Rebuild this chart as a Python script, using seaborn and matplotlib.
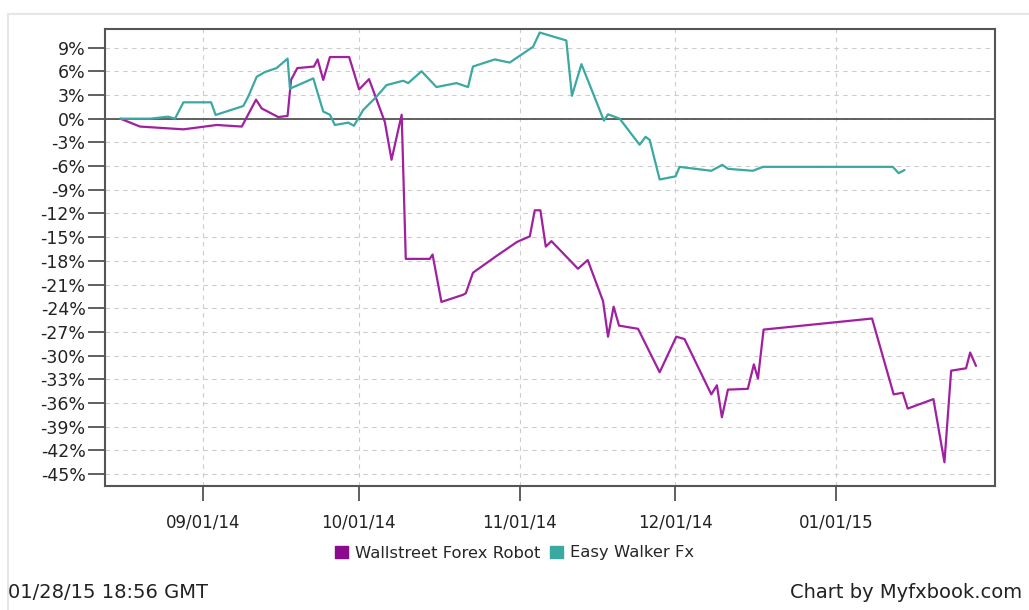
import matplotlib
matplotlib.use("Agg")
import matplotlib.pyplot as plt
import matplotlib.dates as mdates
from matplotlib.patches import Patch, Rectangle
import pandas as pd
import seaborn as sns

# ---- data ----
wallstreet_dates = [
    "2014-08-16 00:00", "2014-08-19 19:00", "2014-08-28 04:00", "2014-09-03 14:00",
    "2014-09-08 10:00", "2014-09-11 04:00", "2014-09-12 06:00", "2014-09-15 11:00",
    "2014-09-17 06:00", "2014-09-17 22:00", "2014-09-19 03:00", "2014-09-22 08:00",
    "2014-09-23 01:00", "2014-09-24 03:00", "2014-09-25 10:00", "2014-09-29 03:00",
    "2014-10-01 01:00", "2014-10-02 23:00", "2014-10-05 09:00", "2014-10-06 00:00",
    "2014-10-07 07:00", "2014-10-09 06:00", "2014-10-10 01:00", "2014-10-14 16:00",
    "2014-10-15 05:00", "2014-10-16 22:00", "2014-10-21 02:00", "2014-10-21 15:00",
    "2014-10-23 00:00", "2014-10-27 12:00", "2014-10-31 12:00", "2014-11-02 23:00",
    "2014-11-03 22:00", "2014-11-05 00:00",
    "2014-11-06 01:00", "2014-11-07 03:00", "2014-11-12 06:00", "2014-11-14 03:00",
    "2014-11-17 02:00", "2014-11-18 01:00", "2014-11-19 03:00", "2014-11-20 04:00",
    "2014-11-23 20:00", "2014-11-28 00:00", "2014-12-01 05:00", "2014-12-02 19:00",
    "2014-12-07 23:00", "2014-12-09 01:00", "2014-12-10 00:00", "2014-12-11 04:00",
    "2014-12-15 00:00", "2014-12-16 04:00", "2014-12-16 23:00", "2014-12-18 01:00",
    "2015-01-07 23:00", "2015-01-12 03:00", "2015-01-13 21:00", "2015-01-14 20:00",
    "2015-01-19 19:00", "2015-01-21 22:00", "2015-01-23 05:00", "2015-01-26 02:00",
    "2015-01-26 21:00", "2015-01-28 00:00",
]
wallstreet_values = [
    0.0, -1.0, -1.35, -0.8,
    -1.0, 2.4, 1.3, 0.2,
    0.35, 4.9, 6.4, 6.6,
    7.5, 4.9, 7.8, 7.8,
    3.7, 5.0, 0.7, -0.4,
    -5.2, 0.5, -17.75, -17.75,
    -17.2, -23.2, -22.3, -22.1,
    -19.5, -17.4, -15.6, -14.9,
    -11.6, -11.6,
    -16.2, -15.5, -19.0, -17.9,
    -23.1, -27.6, -23.8, -26.2,
    -26.6, -32.1, -27.6, -27.9,
    -34.9, -33.75, -37.8, -34.3,
    -34.2, -31.1, -32.9, -26.7,
    -25.3, -34.9, -34.7, -36.7,
    -35.5, -43.5, -31.9, -31.6,
    -29.6, -31.3,
]

easywalker_dates = [
    "2014-08-16 00:00", "2014-08-21 18:00", "2014-08-25 05:00", "2014-08-26 13:00",
    "2014-08-28 04:00", "2014-09-02 12:00", "2014-09-03 09:00", "2014-09-08 17:00",
    "2014-09-09 16:00", "2014-09-11 07:00", "2014-09-12 21:00", "2014-09-15 03:00",
    "2014-09-17 06:00", "2014-09-17 17:00", "2014-09-22 05:00", "2014-09-24 03:00",
    "2014-09-25 10:00", "2014-09-26 09:00", "2014-09-28 23:00", "2014-09-30 01:00",
    "2014-10-01 20:00", "2014-10-04 10:00", "2014-10-06 08:00", "2014-10-09 13:00",
    "2014-10-10 12:00", "2014-10-13 02:00", "2014-10-15 23:00", "2014-10-19 20:00",
    "2014-10-22 01:00", "2014-10-23 00:00", "2014-10-27 05:00", "2014-10-30 02:00",
    "2014-11-03 14:00", "2014-11-04 21:00", "2014-11-10 00:00", "2014-11-11 02:00",
    "2014-11-12 22:00", "2014-11-17 06:00", "2014-11-18 01:00", "2014-11-20 07:00",
    "2014-11-24 03:00", "2014-11-25 07:00", "2014-11-26 02:00", "2014-11-28 00:00",
    "2014-12-01 02:00", "2014-12-01 20:00", "2014-12-07 23:00", "2014-12-10 02:00",
    "2014-12-11 04:00", "2014-12-15 23:00", "2014-12-17 22:00", "2015-01-11 23:00",
    "2015-01-13 02:00", "2015-01-14 05:00",
]
easywalker_values = [
    0.0, 0.0, 0.25, 0.0,
    2.07, 2.07, 0.47, 1.6,
    2.8, 5.3, 5.9, 6.4,
    7.6, 3.8, 5.1, 0.9,
    0.5, -0.8, -0.5, -0.9,
    1.1, 2.8, 4.25, 4.8,
    4.5, 6.0, 4.0, 4.5,
    4.0, 6.6, 7.5, 7.1,
    9.1, 10.9, 9.9, 2.9,
    6.9, -0.25, 0.55, 0.0,
    -3.3, -2.3, -2.7, -7.7,
    -7.3, -6.1, -6.6, -5.85,
    -6.35, -6.6, -6.1, -6.1,
    -6.9, -6.5,
]

series_names = ["Wallstreet Forex Robot", "Easy Walker Fx"]
series_colors = ["#a020a0", "#3aa9a2"]
legend_colors = ["#8c0a8c", "#3aa9a2"]
x_tick_dates = ["2014-09-01", "2014-10-01", "2014-11-01", "2014-12-01", "2015-01-01"]
y_ticks = list(range(-45, 10, 3))
footer_left = "01/28/15 18:56 GMT"
footer_right = "Chart by Myfxbook.com"

# ---- build frame ----
df = pd.concat([
    pd.DataFrame({"date": pd.to_datetime(wallstreet_dates), "value": wallstreet_values,
                  "series": series_names[0]}),
    pd.DataFrame({"date": pd.to_datetime(easywalker_dates), "value": easywalker_values,
                  "series": series_names[1]}),
], ignore_index=True)

sns.set_theme(style="white")
plt.rcParams["font.family"] = ["DejaVu Sans"]

fig = plt.figure(figsize=(10.29, 6.10), dpi=100)
fig.patch.set_facecolor("white")

# light outer panel (outline only)
fig.patches.append(Rectangle((8 / 1029, -0.01), 1.0, 1.01 - 14 / 610, transform=fig.transFigure,
                             facecolor="none", edgecolor="#e6e6e6", linewidth=1.5, zorder=-5))

ax = fig.add_axes([105 / 1029, 1 - 486 / 610, (995 - 105) / 1029, (486 - 29) / 610])
ax.set_facecolor("white")

sns.lineplot(data=df, x="date", y="value", hue="series", hue_order=series_names,
             palette=dict(zip(series_names, series_colors)), linewidth=1.6,
             estimator=None, sort=False, legend=False, ax=ax, zorder=3)

ax.set_xlim(pd.Timestamp("2014-08-13 01:00"), pd.Timestamp("2015-01-31 16:00"))
ax.set_ylim(-46.5, 11.35)

ax.set_yticks(y_ticks)
ax.set_yticklabels([f"{v}%" for v in y_ticks])
ticks = pd.to_datetime(x_tick_dates)
ax.set_xticks(ticks)
ax.xaxis.set_major_formatter(mdates.DateFormatter("%m/%d/%y"))

ax.grid(True, color="#cccccc", linestyle=(0, (4, 4)), linewidth=0.8)
ax.axhline(0, color="#555555", linewidth=1.3, zorder=2)

for s in ax.spines.values():
    s.set_color("#555555")
    s.set_linewidth(1.5)

ax.tick_params(axis="y", which="major", direction="out", length=12, width=1.2,
               color="#444444", labelsize=12.5, labelcolor="#222222", pad=2, left=True)
ax.tick_params(axis="x", which="major", direction="out", length=11, width=1.2,
               color="#444444", labelsize=12, labelcolor="#222222", pad=9, bottom=True)
ax.set_xlabel("")
ax.set_ylabel("")

handles = [Patch(facecolor=c, edgecolor=c) for c in legend_colors]
fig.legend(handles, series_names, loc="center", bbox_to_anchor=(0.5, 1 - 553 / 610),
           ncol=2, frameon=False, fontsize=11.8, handlelength=0.8, handleheight=0.8,
           handletextpad=0.4, columnspacing=0.6)

fig.text(8 / 1029, 1 - 593 / 610, footer_left, ha="left", va="center", fontsize=14,
         color="#222222")
fig.text(1022 / 1029, 1 - 593 / 610, footer_right, ha="right", va="center", fontsize=14,
         color="#222222")

fig.savefig("out.png", dpi=100)
